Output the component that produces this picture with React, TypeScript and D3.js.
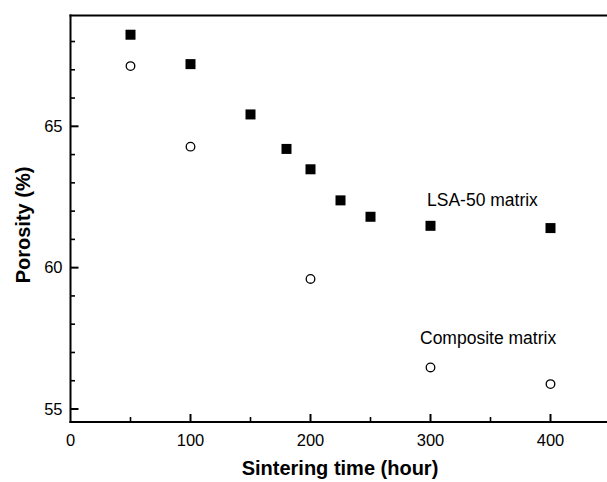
import React from "react";
import * as d3 from "d3";

const lsaTime = [50, 100, 150, 180, 200, 225, 250, 300, 400];
const lsaPorosity = [68.24, 67.2, 65.42, 64.2, 63.48, 62.38, 61.8, 61.48, 61.4];
const compTime = [50, 100, 200, 300, 400];
const compPorosity = [67.13, 64.28, 59.6, 56.47, 55.88];
const xMajorTicks = [0, 100, 200, 300, 400];
const xMinorTicks = [50, 150, 250, 350];
const yMajorTicks = [55, 60, 65];
const yMinorTicks = [56, 57, 58, 59, 61, 62, 63, 64, 66, 67, 68];
const seriesLabels = ["LSA-50 matrix", "Composite matrix"];
const xTitle = "Sintering time (hour)";
const yTitle = "Porosity (%)";

const W = 607;
const H = 482;
const left = 70.5;
const right = 610.5;
const top = 15.5;
const bottom = 422;

export default function App() {
  const x = d3.scaleLinear().domain([0, 450]).range([left, right]);
  const y = d3.scaleLinear().domain([54.54, 68.92]).range([bottom, top]);
  const font = "'Liberation Sans', Arial, sans-serif";
  return (
    <svg
      width={W}
      height={H}
      style={{ position: "absolute", left: 0, top: 0, background: "#fff" }}
      fontFamily={font}
    >
      {/* frame */}
      <line x1={left} x2={left} y1={top - 1} y2={bottom + 1} stroke="#000" strokeWidth={2} />
      <line x1={left - 1} x2={W + 5} y1={bottom} y2={bottom} stroke="#000" strokeWidth={2} />
      <line x1={left - 1} x2={W + 5} y1={top} y2={top} stroke="#000" strokeWidth={2} />
      {/* y ticks */}
      {yMajorTicks.map((t) => (
        <g key={"ym" + t}>
          <line x1={left} x2={left + 8} y1={y(t)} y2={y(t)} stroke="#000" strokeWidth={2} />
          <text x={left - 8} y={y(t)} dy="0.35em" textAnchor="end" fontSize={16.5}>
            {t}
          </text>
        </g>
      ))}
      {yMinorTicks.map((t) => (
        <line key={"yn" + t} x1={left} x2={left + 4.5} y1={y(t)} y2={y(t)} stroke="#000" strokeWidth={1.6} />
      ))}
      {/* x ticks */}
      {xMajorTicks.map((t) => (
        <g key={"xm" + t}>
          {t > 0 && (
            <line x1={x(t)} x2={x(t)} y1={bottom} y2={bottom - 8} stroke="#000" strokeWidth={2} />
          )}
          <text x={x(t)} y={446} textAnchor="middle" fontSize={16.5}>
            {t}
          </text>
        </g>
      ))}
      {xMinorTicks.map((t) => (
        <line key={"xn" + t} x1={x(t)} x2={x(t)} y1={bottom} y2={bottom - 5} stroke="#000" strokeWidth={1.6} />
      ))}
      {/* data */}
      {lsaTime.map((t, i) => (
        <rect
          key={"s" + i}
          x={x(t) - 5}
          y={y(lsaPorosity[i]) - 5}
          width={10}
          height={10}
          fill="#000"
        />
      ))}
      {compTime.map((t, i) => (
        <circle
          key={"c" + i}
          cx={x(t)}
          cy={y(compPorosity[i])}
          r={4.3}
          fill="#fff"
          stroke="#000"
          strokeWidth={1.3}
        />
      ))}
      {/* labels */}
      <text x={427} y={206} fontSize={17.5}>
        {seriesLabels[0]}
      </text>
      <text x={420} y={344} fontSize={17.5}>
        {seriesLabels[1]}
      </text>
      <text x={340} y={475} textAnchor="middle" fontSize={20} fontWeight="bold">
        {xTitle}
      </text>
      <text
        transform={`translate(30, 225) rotate(-90)`}
        textAnchor="middle"
        fontSize={20}
        fontWeight="bold"
      >
        {yTitle}
      </text>
    </svg>
  );
}
